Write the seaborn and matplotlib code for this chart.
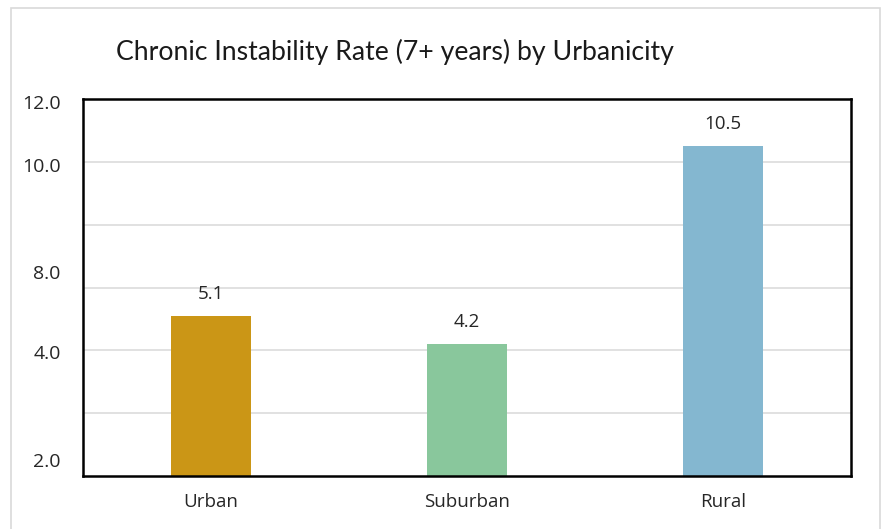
import matplotlib
matplotlib.use("Agg")
import matplotlib.pyplot as plt
from matplotlib.patches import Rectangle
import seaborn as sns
import pandas as pd

# Chronic instability (7+ years) by urbanicity
categories = ["Urban", "Suburban", "Rural"]
rates = [5.1, 4.2, 10.5]
bar_colors = ["#CB9616", "#89C79C", "#84B7D0"]
y_tick_labels = ["2.0", "4.0", "8.0", "10.0", "12.0"]
title_text = "Chronic Instability Rate (7+ years) by Urbanicity"

df = pd.DataFrame({"area": categories, "rate": rates})

sns.set_theme(style="white")
plt.rcParams["font.family"] = ["Open Sans", "DejaVu Sans"]

fig = plt.figure(figsize=(8.87, 5.29), dpi=100)
fig.patch.set_facecolor("white")

# light outer frame of the chart area
fig.add_artist(Rectangle((11 / 887, -0.01), (880 - 11) / 887, 1 - 8 / 529 + 0.01,
                         transform=fig.transFigure, fill=False,
                         edgecolor="#D9D9D9", linewidth=1.2))

ax = fig.add_axes([83 / 887, 53 / 529, (851 - 83) / 887, (476 - 99) / 529])

sns.barplot(data=df, x="area", y="rate", hue="area", palette=bar_colors,
            width=0.31, legend=False, ax=ax, saturation=1, edgecolor="none")

ax.set_xlim(-0.5, 2.5)
ax.set_ylim(0, 12)

# horizontal gridlines
for g in [2, 4, 6, 8, 10]:
    ax.axhline(g, color="#D9D9D9", linewidth=1.1, zorder=0)
ax.set_axisbelow(True)

ax.set_yticks([0.5, 3.95, 6.5, 9.9, 11.9])
ax.set_yticklabels(y_tick_labels)
ax.tick_params(axis="y", length=0, pad=16, labelsize=14, labelcolor="#262626")
ax.tick_params(axis="x", length=0, pad=12, labelsize=13.5, labelcolor="#262626")
ax.set_xlabel("")
ax.set_ylabel("")

for side in ["left", "right", "top", "bottom"]:
    ax.spines[side].set_visible(True)
    ax.spines[side].set_color("black")
    ax.spines[side].set_linewidth(1.8)

# value labels above bars
for i, v in enumerate(rates):
    ax.annotate(f"{v:.1f}", (i, v), xytext=(0, 16), textcoords="offset points",
                ha="center", va="center", fontsize=13.5, color="#262626")

fig.text(394.5 / 887, 1 - 52 / 529, title_text, ha="center", va="center",
         fontsize=19.2, color="#1a1a1a", family=["Lato", "DejaVu Sans"])

fig.savefig("out.png", dpi=100, facecolor="white")
